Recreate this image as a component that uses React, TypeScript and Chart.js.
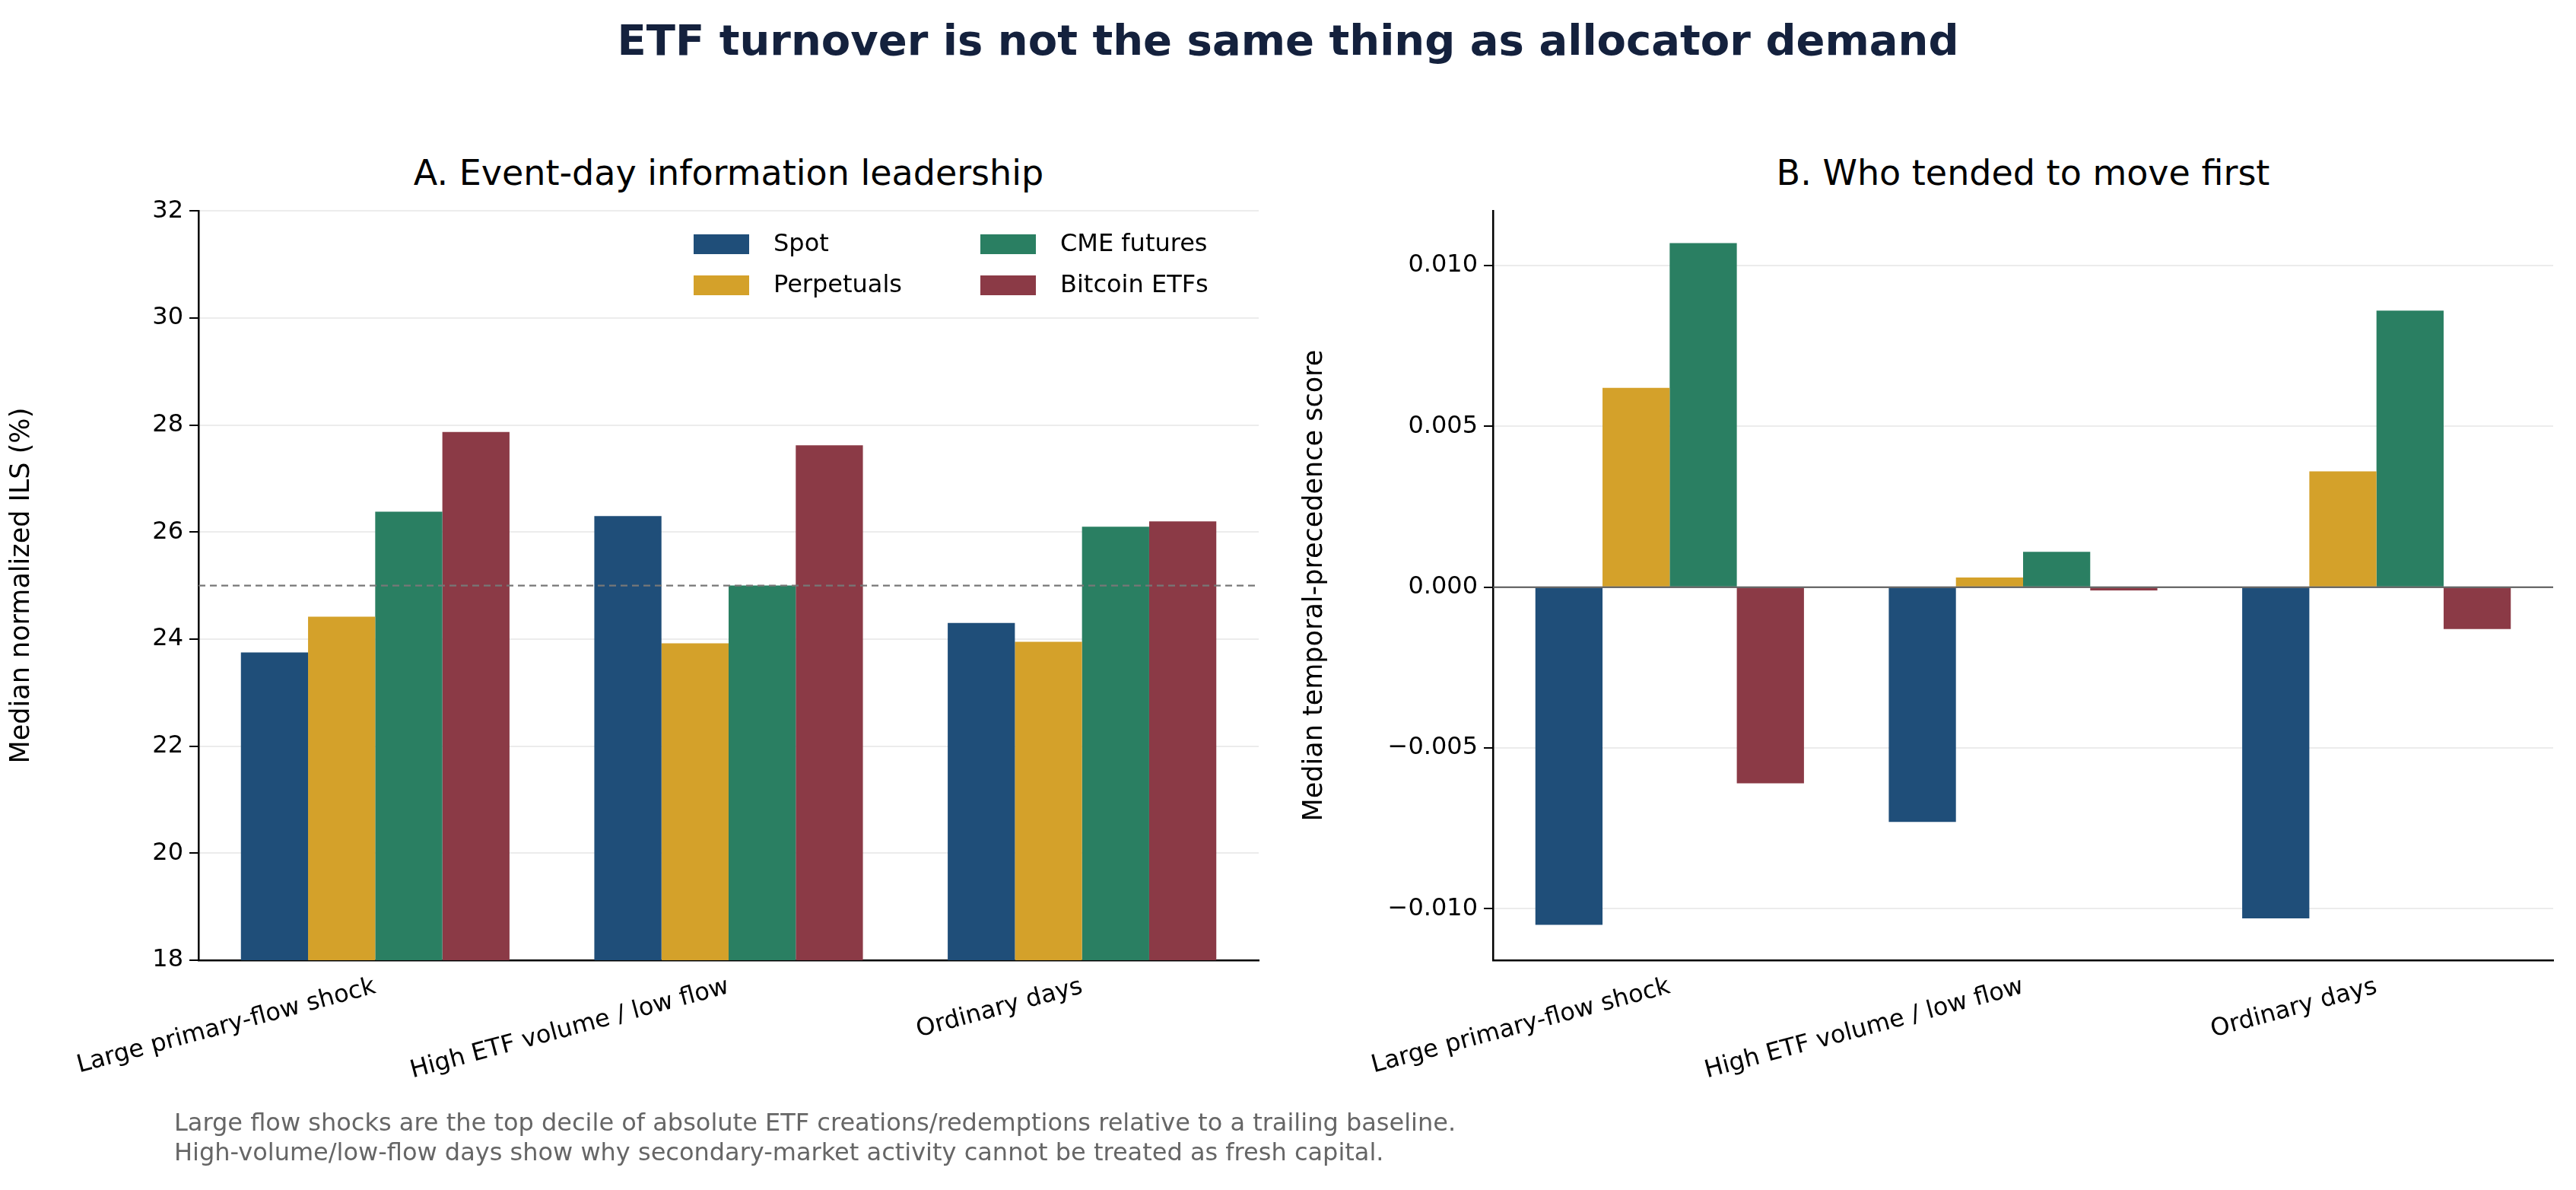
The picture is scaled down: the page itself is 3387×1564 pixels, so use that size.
import React, { useEffect, useRef } from "react";
import { Chart, registerables } from "chart.js";
Chart.register(...registerables);

const categories = ["Large primary-flow shock", "High ETF volume / low flow", "Ordinary days"];
const seriesNames = ["Spot", "Perpetuals", "CME futures", "Bitcoin ETFs"];
const colors = ["#1f4e79", "#d4a12a", "#2a7f62", "#8b3a46"];
const ilsSpot = [23.75, 26.3, 24.3];
const ilsPerp = [24.42, 23.92, 23.95];
const ilsCme = [26.38, 25.0, 26.1];
const ilsEtf = [27.87, 27.62, 26.2];
const tpSpot = [-0.0105, -0.0073, -0.0103];
const tpPerp = [0.0062, 0.0003, 0.0036];
const tpCme = [0.0107, 0.0011, 0.0086];
const tpEtf = [-0.0061, -0.0001, -0.0013];
const leftTicks = [18, 20, 22, 24, 26, 28, 30, 32];
const rightTicks = [-0.01, -0.005, 0, 0.005, 0.01];

const FONT = "'DejaVu Sans', sans-serif";

function refLine(value: number, dashed: boolean) {
  return {
    id: "refline",
    afterDatasetsDraw(chart: any) {
      const { ctx, chartArea, scales } = chart;
      const y = scales.y.getPixelForValue(value);
      ctx.save();
      ctx.strokeStyle = dashed ? "#777" : "#555";
      ctx.lineWidth = dashed ? 2.2 : 2;
      ctx.setLineDash(dashed ? [9, 6] : []);
      ctx.beginPath();
      ctx.moveTo(chartArea.left, y);
      ctx.lineTo(chartArea.right, y);
      ctx.stroke();
      ctx.restore();
    },
  };
}

function makeConfig(data: number[][], yOpts: any, yTitle: string, yWidth: number, padRight: number, plugin: any) {
  return {
    type: "bar",
    data: {
      labels: categories,
      datasets: data.map((d, i) => ({
        label: seriesNames[i],
        data: d,
        backgroundColor: colors[i],
        barPercentage: 1,
        categoryPercentage: 0.76,
      })),
    },
    options: {
      animation: false,
      responsive: false,
      layout: { padding: { top: 22, right: padRight, left: 0, bottom: 0 } },
      plugins: { legend: { display: false }, tooltip: { enabled: false } },
      scales: {
        x: {
          grid: { display: false, drawTicks: true, tickLength: 12, tickColor: "#000" },
          border: { color: "#000", width: 2.5 },
          ticks: { color: "#000", font: { family: FONT, size: 32 }, maxRotation: 15, minRotation: 15, padding: 4 },
          afterFit: (s: any) => { s.height = 288; },
        },
        y: {
          ...yOpts,
          grid: { color: "#ececec", lineWidth: 2, tickLength: 12, tickColor: "#000" },
          border: { color: "#000", width: 2.5 },
          title: { display: true, text: yTitle, color: "#000", font: { family: FONT, size: 35 }, padding: 8 },
          afterFit: (s: any) => { s.width = yWidth; },
        },
      },
    },
    plugins: [plugin],
  };
}

function ChartBox({ cfg, style }: any) {
  const ref = useRef<HTMLCanvasElement>(null);
  useEffect(() => {
    const c = new Chart(ref.current as any, cfg);
    return () => c.destroy();
  }, []);
  return <canvas ref={ref} width={style.width} height={style.height} style={{ position: "absolute", ...style }} />;
}

export default function App() {
  const leftCfg = makeConfig(
    [ilsSpot, ilsPerp, ilsCme, ilsEtf],
    {
      min: 18, max: 32,
      afterBuildTicks: (s: any) => { s.ticks = leftTicks.map((v) => ({ value: v })); },
      ticks: { color: "#000", font: { family: FONT, size: 32 }, padding: 8, callback: (v: any) => String(v) },
    },
    "Median normalized ILS (%)", 261, 45, refLine(25, true)
  );
  const rightCfg = makeConfig(
    [tpSpot, tpPerp, tpCme, tpEtf],
    {
      min: -0.0116, max: 0.0117,
      afterBuildTicks: (s: any) => { s.ticks = rightTicks.map((v) => ({ value: v })); },
      ticks: { color: "#000", font: { family: FONT, size: 32 }, padding: 8, callback: (v: any) => Number(v).toFixed(3).replace("-", "\u2212") },
    },
    "Median temporal-precedence score", 263, 30, refLine(0, false)
  );
  const txt = (s: any) => ({ position: "absolute" as const, fontFamily: FONT, whiteSpace: "nowrap" as const, ...s });
  return (
    <div style={{ position: "fixed", left: 0, top: 0, width: 3387, height: 1564, background: "#fff", overflow: "hidden" }}>
      <div style={txt({ left: 0, width: 3387, top: 20, textAlign: "center", fontSize: 56, fontWeight: "bold", color: "#14213d" })}>
        ETF turnover is not the same thing as allocator demand
      </div>
      <div style={txt({ left: 261, width: 1394, top: 200, textAlign: "center", fontSize: 46, color: "#000" })}>
        A. Event-day information leadership
      </div>
      <div style={txt({ left: 1963, width: 1394, top: 200, textAlign: "center", fontSize: 46, color: "#000" })}>
        B. Who tended to move first
      </div>
      <ChartBox cfg={leftCfg} style={{ left: 0, top: 250, width: 1700, height: 1300 }} />
      <ChartBox cfg={rightCfg} style={{ left: 1700, top: 250, width: 1687, height: 1300 }} />
      {seriesNames.map((n, i) => {
        const col = i === 0 || i === 1 ? 0 : 1;
        const row = i === 0 || i === 2 ? 0 : 1;
        const x = col === 0 ? 912 : 1289;
        const y = row === 0 ? 308 : 362;
        return (
          <div key={n}>
            <div style={{ position: "absolute", left: x, top: y, width: 73, height: 26, background: colors[i] }} />
            <div style={txt({ left: x + 105, top: y - 8, fontSize: 32, color: "#000" })}>{n}</div>
          </div>
        );
      })}
      <div style={txt({ left: 229, top: 1456, fontSize: 32, color: "#666", lineHeight: "39px" })}>
        Large flow shocks are the top decile of absolute ETF creations/redemptions relative to a trailing baseline.
        <br />
        High-volume/low-flow days show why secondary-market activity cannot be treated as fresh capital.
      </div>
    </div>
  );
}
